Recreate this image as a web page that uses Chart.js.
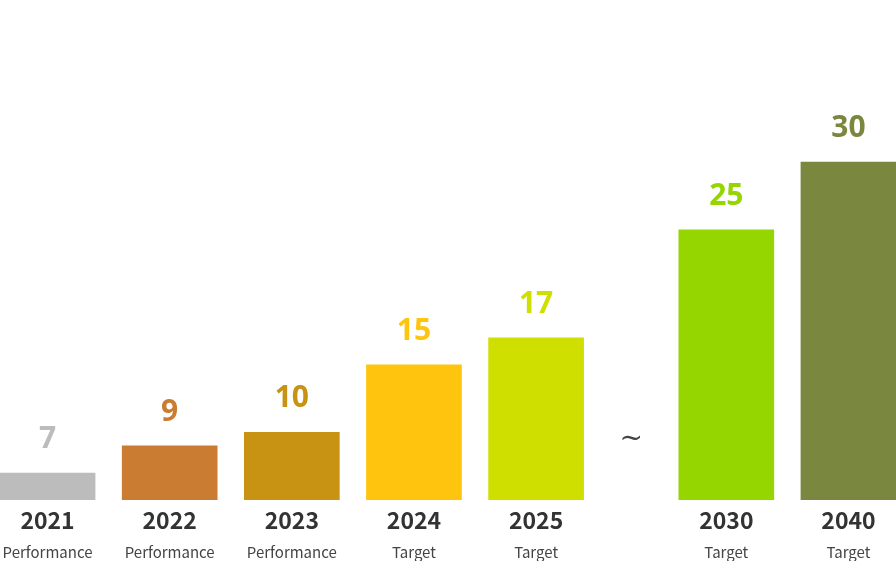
<!DOCTYPE html>
<html>
<head>
<meta charset="utf-8">
<script src="https://cdn.jsdelivr.net/npm/chart.js@4"></script>
<style>
  html, body { margin: 0; padding: 0; background: #fff; }
  #wrap { width: 896px; height: 564px; }
</style>
</head>
<body>
<div id="wrap"><canvas id="chart" width="896" height="564"></canvas></div>
<script>
// ── Data ─────────────────────────────────────────────────────────────────────
const years  = ['2021', '2022', '2023', '2024', '2025', '2030', '2040'];
const phases = ['Performance', 'Performance', 'Performance', 'Target', 'Target', 'Target', 'Target'];
const values = [7, 9, 10, 15, 17, 25, 30];

// ── Style ────────────────────────────────────────────────────────────────────
const BAR_COLORS = ['#bcbcbc', '#c97c32', '#c89213', '#ffc50e', '#cfdf00', '#95d500', '#7a873f'];
const FONT_KR = "'Noto Sans CJK KR', 'Noto Sans', sans-serif";
const BREAK_AFTER = 4;        // "~" sits between 2025 and 2030
const BREAK_GAP = 68 / 122;   // extra slot width at the break
const EDGE = 47.5 / 122;      // half slot on each side

// slot position on the linear x axis (index + extra gap after the break)
const slotOf = i => i + (i > BREAK_AFTER ? BREAK_GAP : 0);
const slots = years.map((_, i) => slotOf(i));
const X_MIN = -EDGE;
const X_MAX = slotOf(years.length - 1) + EDGE;

// ── Plugins ──────────────────────────────────────────────────────────────────
const valueLabels = {
  id: 'valueLabels',
  afterDatasetsDraw(chart) {
    const { ctx } = chart;
    const meta = chart.getDatasetMeta(0);
    ctx.save();
    ctx.font = `bold 30px 'Noto Sans', sans-serif`;
    ctx.textAlign = 'center';
    ctx.textBaseline = 'alphabetic';
    meta.data.forEach((bar, i) => {
      ctx.fillStyle = BAR_COLORS[i];
      ctx.fillText(String(values[i]), bar.x, bar.y - 25);
    });
    ctx.restore();
  },
};

const breakMark = {
  id: 'breakMark',
  afterDatasetsDraw(chart) {
    const { ctx, chartArea } = chart;
    const xs = chart.scales.x;
    const mid = (xs.getPixelForValue(slotOf(BREAK_AFTER)) + xs.getPixelForValue(slotOf(BREAK_AFTER + 1))) / 2;
    ctx.save();
    ctx.font = `28px 'DejaVu Serif', serif`;
    ctx.fillStyle = '#444';
    ctx.textAlign = 'center';
    ctx.textBaseline = 'middle';
    ctx.fillText('~', mid, chartArea.bottom - 60);
    ctx.restore();
  },
};

// ── Shared axis bits ─────────────────────────────────────────────────────────
function slotAxis(height, extra) {
  return {
    type: 'linear',
    position: 'bottom',
    offset: false,   // bar charts default to an offset index axis
    min: X_MIN,
    max: X_MAX,
    grid: { display: false, drawTicks: false },
    border: { display: false },
    afterBuildTicks: scale => { scale.ticks = slots.map(v => ({ value: v })); },
    // labels at the edges would otherwise shrink the plot area
    afterFit: scale => {
      scale.paddingLeft = 0;
      scale.paddingRight = 0;
      scale.height = height;
    },
    ...extra,
  };
}

new Chart(document.getElementById('chart'), {
  type: 'bar',
  data: {
    datasets: [{
      data: values.map((v, i) => ({ x: slots[i], y: v })),
      backgroundColor: BAR_COLORS,
      barThickness: 95,
      borderWidth: 0,
    }],
  },
  options: {
    responsive: false,
    animation: false,
    layout: { padding: { top: 0, left: 0, right: 0, bottom: 3 } },
    plugins: { legend: { display: false }, tooltip: { enabled: false } },
    scales: {
      x: slotAxis(34, {
        weight: 0,
        ticks: {
          autoSkip: false, maxRotation: 0, padding: 6,
          color: '#333',
          font: { family: FONT_KR, size: 23, weight: 'bold', lineHeight: 1.2 },
          callback: (v, i) => years[i],
        },
      }),
      x2: slotAxis(27, {
        weight: 1,
        ticks: {
          autoSkip: false, maxRotation: 0, padding: 9,
          color: '#444',
          font: { family: FONT_KR, size: 15, lineHeight: 1.2 },
          callback: (v, i) => phases[i],
        },
      }),
      y: {
        display: false,
        min: 5,
        max: 42,
      },
    },
  },
  plugins: [valueLabels, breakMark],
});
</script>
</body>
</html>
